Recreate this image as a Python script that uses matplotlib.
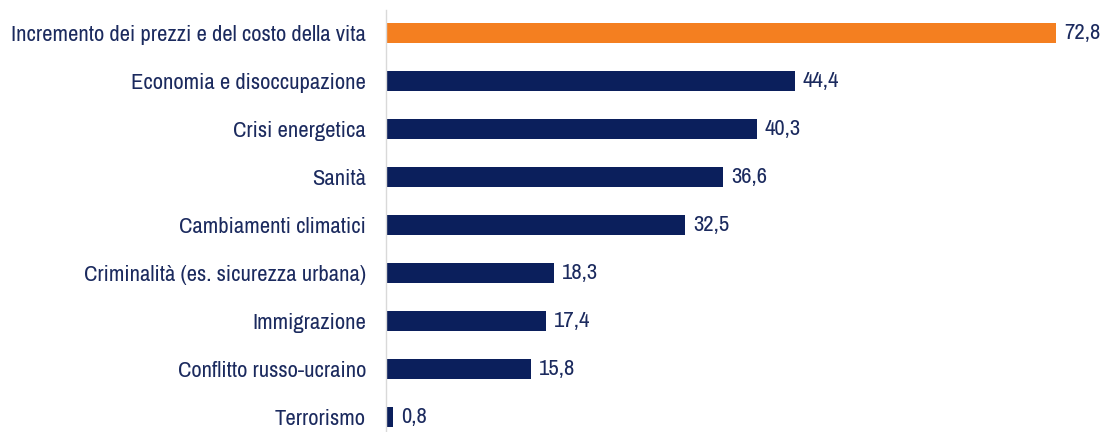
import matplotlib.pyplot as plt

plt.rcParams['font.family'] = ['Archivo Narrow', 'Liberation Sans', 'DejaVu Sans']

categories = [
    "Incremento dei prezzi e del costo della vita",
    "Economia e disoccupazione",
    "Crisi energetica",
    "Sanità",
    "Cambiamenti climatici",
    "Criminalità (es. sicurezza urbana)",
    "Immigrazione",
    "Conflitto russo-ucraino",
    "Terrorismo",
]
values = [72.8, 44.4, 40.3, 36.6, 32.5, 18.3, 17.4, 15.8, 0.8]

navy = "#0b1f5c"
orange = "#f47f20"
text_col = "#1b2a5e"
colors = [orange] + [navy] * (len(values) - 1)

fig = plt.figure(figsize=(11.05, 4.32), dpi=100)
ax = fig.add_axes([386 / 1105, 0, 1 - 386 / 1105, 1 - 10 / 432])

y = list(range(len(categories)))
ax.barh(y, values, height=0.43, color=colors)

for yi, v in zip(y, values):
    ax.text(v + 0.85, yi, f"{v:.1f}".replace(".", ","), va="center", ha="left",
            fontsize=16.3, color=text_col)

ax.set_yticks(y)
ax.set_yticklabels(categories, fontsize=16.3, color=text_col)
ax.tick_params(axis="y", length=0, pad=14.4)
ax.set_xticks([])
ax.set_xlim(0, 78.1)
ax.set_ylim(8.3125, -0.479)

for s in ["top", "right", "bottom"]:
    ax.spines[s].set_visible(False)
ax.spines["left"].set_color("#d9d9d9")
ax.spines["left"].set_linewidth(1)

fig.savefig("out.png", dpi=100)
